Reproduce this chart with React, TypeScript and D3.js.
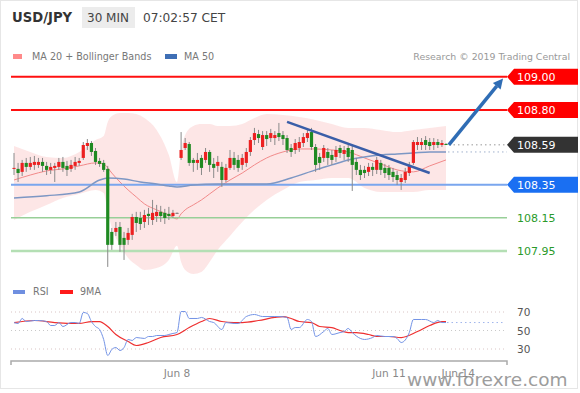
import React from "react";
import * as d3 from "d3";

// ---------- candle data (USD/JPY, 30 min) ----------
const openP = [
  108.445, 108.445, 108.427, 108.481, 108.457, 108.469, 108.469, 108.487, 108.463, 108.439,
  108.451, 108.457, 108.487, 108.463, 108.445, 108.463, 108.481, 108.511, 108.583, 108.601,
  108.553, 108.493, 108.481, 108.445, 108.065, 108.065, 108.095, 108.029, 108.017, 108.047,
  108.155, 108.149, 108.125, 108.174, 108.137, 108.161, 108.186, 108.18, 108.174, 108.161,
  108.18, 108.511, 108.571, 108.595, 108.499, 108.481, 108.511, 108.499, 108.547, 108.475,
  108.463, 108.457, 108.378, 108.451, 108.511, 108.499, 108.469, 108.481, 108.547, 108.619,
  108.655, 108.577, 108.649, 108.631, 108.631, 108.661, 108.649, 108.631, 108.571, 108.559,
  108.571, 108.601, 108.631, 108.667, 108.577, 108.517, 108.511, 108.547, 108.529, 108.517,
  108.571, 108.535, 108.571, 108.559, 108.487, 108.439, 108.439, 108.427, 108.457, 108.439,
  108.481, 108.451, 108.451, 108.427, 108.408, 108.366, 108.378, 108.42, 108.481, 108.589,
  108.589, 108.619, 108.607, 108.589, 108.607, 108.589, 108.595,
];
const highP = [
  108.541, 108.481, 108.499, 108.511, 108.517, 108.523, 108.511, 108.511, 108.487, 108.481,
  108.481, 108.511, 108.517, 108.493, 108.499, 108.517, 108.511, 108.607, 108.625, 108.613,
  108.571, 108.511, 108.499, 108.463, 108.089, 108.125, 108.125, 108.065, 108.089, 108.174,
  108.186, 108.186, 108.198, 108.21, 108.258, 108.228, 108.222, 108.204, 108.216, 108.198,
  108.182, 108.667, 108.631, 108.607, 108.511, 108.541, 108.529, 108.571, 108.559, 108.511,
  108.523, 108.487, 108.475, 108.559, 108.547, 108.529, 108.535, 108.571, 108.637, 108.692,
  108.68, 108.673, 108.673, 108.686, 108.673, 108.722, 108.673, 108.649, 108.595, 108.625,
  108.637, 108.661, 108.686, 108.692, 108.595, 108.541, 108.589, 108.571, 108.559, 108.583,
  108.589, 108.583, 108.589, 108.589, 108.511, 108.469, 108.463, 108.481, 108.481, 108.517,
  108.499, 108.475, 108.469, 108.451, 108.433, 108.414, 108.451, 108.487, 108.619, 108.637,
  108.631, 108.643, 108.631, 108.631, 108.625, 108.619, 108.601,
];
const lowP = [
  108.408, 108.366, 108.402, 108.427, 108.439, 108.439, 108.451, 108.427, 108.408, 108.414,
  108.366, 108.439, 108.427, 108.402, 108.427, 108.439, 108.463, 108.499, 108.559, 108.523,
  108.469, 108.457, 108.427, 107.854, 107.957, 108.041, 107.945, 107.896, 107.987, 108.017,
  108.065, 108.077, 108.089, 108.107, 108.107, 108.125, 108.125, 108.113, 108.137, 108.149,
  108.178, 108.499, 108.559, 108.463, 108.427, 108.439, 108.408, 108.481, 108.427, 108.39,
  108.427, 108.336, 108.366, 108.439, 108.439, 108.427, 108.439, 108.457, 108.523, 108.589,
  108.601, 108.559, 108.583, 108.607, 108.589, 108.613, 108.589, 108.541, 108.517, 108.535,
  108.547, 108.577, 108.607, 108.559, 108.427, 108.439, 108.487, 108.469, 108.469, 108.487,
  108.511, 108.499, 108.487, 108.312, 108.408, 108.378, 108.39, 108.402, 108.402, 108.414,
  108.408, 108.39, 108.378, 108.366, 108.348, 108.318, 108.36, 108.402, 108.469, 108.559,
  108.559, 108.559, 108.559, 108.559, 108.571, 108.577, 108.589,
];
const closeP = [
  108.451, 108.42, 108.481, 108.457, 108.481, 108.487, 108.487, 108.463, 108.439, 108.457,
  108.463, 108.487, 108.451, 108.439, 108.469, 108.487, 108.493, 108.589, 108.601, 108.547,
  108.487, 108.475, 108.439, 107.987, 107.987, 108.089, 107.987, 107.987, 108.059, 108.155,
  108.119, 108.113, 108.167, 108.161, 108.18, 108.186, 108.161, 108.149, 108.161, 108.18,
  108.18, 108.559, 108.601, 108.481, 108.481, 108.499, 108.451, 108.547, 108.469, 108.451,
  108.487, 108.378, 108.451, 108.511, 108.469, 108.451, 108.511, 108.547, 108.619, 108.661,
  108.631, 108.649, 108.625, 108.661, 108.649, 108.637, 108.625, 108.559, 108.547, 108.601,
  108.607, 108.637, 108.661, 108.577, 108.469, 108.481, 108.571, 108.511, 108.499, 108.559,
  108.541, 108.559, 108.517, 108.469, 108.439, 108.408, 108.42, 108.457, 108.439, 108.499,
  108.439, 108.42, 108.408, 108.396, 108.378, 108.39, 108.427, 108.469, 108.607, 108.607,
  108.607, 108.589, 108.583, 108.607, 108.589, 108.601, 108.59,
];

// ---------- MA 20 + Bollinger Bands (sampled at candle indices) ----------
const bandIdx = [0, 4, 8, 12, 16, 20, 22, 23, 24, 26, 28, 30, 32, 35, 38, 40, 41, 42, 44, 46, 48, 50, 53, 56, 59, 62, 66, 70, 74, 78, 82, 86, 90, 94, 98, 102, 106];
const bandUpper = [108.583, 108.547, 108.517, 108.511, 108.547, 108.619, 108.643, 108.728, 108.764, 108.782, 108.782, 108.776, 108.752, 108.68, 108.529, 108.366, 108.559, 108.649, 108.704, 108.716, 108.716, 108.704, 108.704, 108.716, 108.752, 108.776, 108.77, 108.758, 108.74, 108.716, 108.692, 108.692, 108.68, 108.667, 108.68, 108.692, 108.704];
const bandMid = [108.378, 108.408, 108.433, 108.445, 108.463, 108.481, 108.475, 108.451, 108.42, 108.366, 108.318, 108.276, 108.234, 108.198, 108.167, 108.143, 108.174, 108.198, 108.228, 108.258, 108.294, 108.33, 108.378, 108.42, 108.469, 108.511, 108.547, 108.565, 108.565, 108.559, 108.547, 108.511, 108.475, 108.439, 108.427, 108.463, 108.499];
const bandLower = [108.137, 108.186, 108.228, 108.27, 108.294, 108.318, 108.3, 108.186, 108.089, 107.987, 107.908, 107.866, 107.836, 107.848, 107.896, 107.981, 107.884, 107.836, 107.812, 107.824, 107.884, 107.957, 108.041, 108.125, 108.198, 108.258, 108.318, 108.366, 108.378, 108.39, 108.39, 108.33, 108.306, 108.306, 108.306, 108.318, 108.318];

// ---------- MA 50 ----------
const ma50Idx = [0, 8, 16, 21, 23, 27, 31, 35, 38, 40, 44, 50, 56, 62, 68, 74, 78, 82, 86, 90, 94, 98, 102, 106];
const ma50Val = [108.27, 108.283, 108.306, 108.378, 108.39, 108.384, 108.366, 108.354, 108.342, 108.336, 108.348, 108.354, 108.354, 108.354, 108.39, 108.439, 108.469, 108.499, 108.517, 108.529, 108.535, 108.541, 108.547, 108.547];

// ---------- RSI and its 9MA ----------
const rsiIdx = [0, 1, 2, 3, 5, 6, 8, 9, 10, 11, 12, 14, 15, 16, 17, 18, 19, 20, 21, 22, 23, 24, 25, 26, 27, 28, 29, 30, 32, 33, 34, 35, 37, 38, 39, 40, 41, 42, 43, 45, 46, 48, 49, 51, 52, 54, 55, 57, 59, 61, 64, 65, 67, 68, 69, 70, 72, 73, 74, 76, 77, 78, 80, 81, 82, 83, 85, 86, 88, 89, 91, 93, 94, 95, 97, 98, 100, 101, 103, 104, 105, 106];
const rsiVal = [58.6, 57.6, 63.0, 59.7, 60.8, 60.8, 59.7, 55.4, 55.4, 58.6, 54.3, 58.6, 58.6, 57.6, 69.5, 68.4, 59.7, 54.3, 51.1, 40.3, 23.0, 29.5, 31.6, 28.4, 31.6, 40.3, 39.2, 42.4, 41.4, 43.5, 43.5, 44.6, 44.6, 45.7, 46.8, 47.8, 70.5, 70.5, 63.0, 63.0, 64.1, 59.7, 58.6, 51.1, 58.6, 57.6, 57.6, 65.1, 67.3, 65.1, 65.1, 65.1, 64.1, 51.1, 53.2, 53.2, 61.9, 59.7, 43.5, 48.9, 52.2, 45.7, 47.8, 48.9, 52.2, 47.8, 41.4, 40.3, 42.4, 44.6, 43.5, 43.5, 41.4, 37.0, 47.8, 61.9, 61.9, 61.9, 58.6, 60.8, 58.6, 58.6];
const rsiMaIdx = [0, 5, 10, 16, 19, 21, 23, 25, 28, 30, 33, 36, 40, 43, 46, 48, 51, 54, 56, 60, 64, 66, 68, 70, 73, 75, 78, 80, 82, 84, 87, 89, 92, 95, 99, 102, 105, 106];
const rsiMaVal = [58.6, 60.8, 58.6, 57.6, 59.7, 59.7, 54.3, 45.7, 38.1, 33.8, 37.0, 42.4, 45.7, 53.2, 59.7, 63.0, 59.7, 58.6, 58.6, 60.8, 64.1, 65.1, 63.0, 59.7, 58.6, 54.3, 53.2, 50.0, 47.8, 47.8, 45.7, 43.5, 43.5, 42.4, 48.9, 55.4, 59.7, 59.7];

// ---------- levels, annotations, ticks ----------
const resistLevels = [109.0, 108.8];
const supportLevels = [108.35];
const targetLevels = [108.15, 107.95];
const lastPrice = 108.59;
const trendIdx = [67, 102];
const trendVal = [108.728, 108.42];
const arrowIdx = [106.7, 120];
const arrowVal = [108.59, 108.99];
const rsiTicks = [70, 50, 30];
const xTickIdx = [40, 92, 109];
const xTickLabels = ["Jun 8", "Jun 11", "Jun 14"];

const FONT = "DejaVu Sans, Verdana, sans-serif";

export default function App() {
  const W = 580;
  const H = 393;
  const x = d3.scaleLinear().domain([0, 106]).range([14, 446]);
  const y = d3.scaleLinear().domain([107.95, 108.8]).range([251, 110]);
  const yr = d3.scaleLinear().domain([30, 70]).range([349, 312]);
  const LX0 = 11;
  const LX1 = 507;

  const bands = bandIdx.map((i, k) => ({ i, u: bandUpper[k], m: bandMid[k], l: bandLower[k] }));
  const area = d3
    .area<any>()
    .x((d) => x(d.i))
    .y0((d) => y(d.l))
    .y1((d) => y(d.u))
    .curve(d3.curveMonotoneX);
  const midLine = d3
    .line<any>()
    .x((d) => x(d.i))
    .y((d) => y(d.m))
    .curve(d3.curveMonotoneX);
  const ma50 = ma50Idx.map((i, k) => ({ i, v: ma50Val[k] }));
  const ma50Line = d3
    .line<any>()
    .x((d) => x(d.i))
    .y((d) => y(d.v))
    .curve(d3.curveMonotoneX);
  const rsiLine = d3
    .line<any>()
    .x((d) => x(d.i))
    .y((d) => yr(d.v))
    .curve(d3.curveMonotoneX);
  const rsi = rsiIdx.map((i, k) => ({ i, v: rsiVal[k] }));
  const rsiMa = rsiMaIdx.map((i, k) => ({ i, v: rsiMaVal[k] }));

  const candles = openP.map((o, i) => ({ i, o, h: highP[i], l: lowP[i], c: closeP[i] }));

  const labelBox = (price: number, fill: string, key: string) => {
    const cy = y(price);
    const pts = [
      [507, cy],
      [514, cy - 8],
      [578, cy - 8],
      [578, cy + 8],
      [514, cy + 8],
    ];
    return (
      <g key={key}>
        <polygon points={pts.map((p) => p.join(",")).join(" ")} fill={fill} />
        <text x={517} y={cy + 4} fill="#fff" fontSize={11} fontFamily={FONT}>
          {price.toFixed(2)}
        </text>
      </g>
    );
  };

  const ax0 = x(arrowIdx[0]);
  const ay0 = y(arrowVal[0]);
  const ax1 = x(arrowIdx[1]);
  const ay1 = y(arrowVal[1]);
  const ang = Math.atan2(ay1 - ay0, ax1 - ax0);
  const hl = 10;
  const hw = 5;
  const bx = ax1 - hl * Math.cos(ang);
  const by = ay1 - hl * Math.sin(ang);
  const head = [
    [ax1, ay1],
    [bx + hw * Math.sin(ang), by - hw * Math.cos(ang)],
    [bx - hw * Math.sin(ang), by + hw * Math.cos(ang)],
  ];

  const lastMa50 = ma50[ma50.length - 1];
  const lastRsi = rsi[rsi.length - 1];

  return (
    <svg
      width={W}
      height={H}
      style={{ position: "absolute", left: 0, top: 0, background: "#fff" }}
      fontFamily={FONT}
    >
      <rect x={0.5} y={0.5} width={577} height={388} fill="#fff" stroke="#e6e6e6" />

      {/* header */}
      <text x={12} y={22} fontSize={13.2} fontWeight="bold" fill="#333">
        USD/JPY
      </text>
      <rect x={82} y={7} width={53} height={21} fill="#ececec" />
      <text x={87} y={22} fontSize={12} fill="#444">
        30 MIN
      </text>
      <text x={143} y={22} fontSize={12.2} fill="#444">
        07:02:57 CET
      </text>

      {/* legend */}
      <rect x={13} y={54} width={9} height={5} fill="#ff8a8a" />
      <text x={32} y={60} fontSize={9.6} fill="#777">
        MA 20 + Bollinger Bands
      </text>
      <rect x={165} y={54} width={12} height={5} fill="#3f6fb5" />
      <text x={184} y={60} fontSize={9.6} fill="#777">
        MA 50
      </text>
      <text x={570} y={60} fontSize={9.4} fill="#999" textAnchor="end">
        Research © 2019 Trading Central
      </text>

      {/* bollinger */}
      <path d={area(bands) || ""} fill="#fcd6d6" opacity={0.6} />
      <path d={midLine(bands) || ""} fill="none" stroke="#f28a8a" strokeWidth={1} />

      {/* horizontal levels */}
      {resistLevels.map((p) => (
        <line key={"r" + p} x1={LX0} x2={LX1} y1={y(p)} y2={y(p)} stroke="#ff1010" strokeWidth={2} />
      ))}
      {supportLevels.map((p) => (
        <line key={"s" + p} x1={LX0} x2={LX1} y1={y(p)} y2={y(p)} stroke="#7aa6ee" strokeWidth={2} />
      ))}
      <line x1={LX0} x2={LX1} y1={y(targetLevels[0])} y2={y(targetLevels[0])} stroke="#98cf98" strokeWidth={1.5} />
      <line x1={LX0} x2={LX1} y1={y(targetLevels[1])} y2={y(targetLevels[1])} stroke="#b4dfb4" strokeWidth={2.5} />

      {/* MA 50 */}
      <path d={ma50Line(ma50) || ""} fill="none" stroke="#7d97c4" strokeWidth={1.5} />
      <line
        x1={x(lastMa50.i) + 2}
        x2={LX1}
        y1={y(lastMa50.v)}
        y2={y(lastMa50.v)}
        stroke="#a0b0cc"
        strokeWidth={1}
        strokeDasharray="1.5,3"
      />

      {/* candles */}
      {candles.map((d) => {
        const cx = x(d.i);
        const top = y(Math.max(d.o, d.c));
        const bot = y(Math.min(d.o, d.c));
        const col = d.c > d.o ? "#ec2020" : d.c < d.o ? "#1f8a22" : "#777";
        return (
          <g key={d.i}>
            <line x1={cx} x2={cx} y1={y(d.h)} y2={y(d.l)} stroke="#8a8a8a" strokeWidth={1} />
            <rect x={cx - 1.6} y={top} width={3.2} height={Math.max(1, bot - top)} fill={col} />
          </g>
        );
      })}

      {/* last price dotted */}
      <line
        x1={x(106) + 3}
        x2={LX1}
        y1={y(lastPrice)}
        y2={y(lastPrice)}
        stroke="#999"
        strokeWidth={1}
        strokeDasharray="1.5,3"
      />

      {/* trend line */}
      <line
        x1={x(trendIdx[0])}
        y1={y(trendVal[0])}
        x2={x(trendIdx[1])}
        y2={y(trendVal[1])}
        stroke="#3a5ea8"
        strokeWidth={2.5}
      />

      {/* arrow */}
      <line x1={ax0} y1={ay0} x2={bx} y2={by} stroke="#2f6db5" strokeWidth={3.5} />
      <polygon points={head.map((p) => p.join(",")).join(" ")} fill="#2f6db5" />

      {/* level labels */}
      {labelBox(resistLevels[0], "#ff0000", "l1")}
      {labelBox(resistLevels[1], "#ff0000", "l2")}
      {labelBox(lastPrice, "#333333", "l3")}
      {labelBox(supportLevels[0], "#1a6ff2", "l4")}
      {targetLevels.map((p) => (
        <text key={"t" + p} x={517} y={y(p) + 4} fontSize={11} fill="#2a9a2a">
          {p.toFixed(2)}
        </text>
      ))}

      {/* RSI panel */}
      <rect x={13} y={290} width={12} height={4} fill="#6f8fe0" />
      <text x={33} y={295} fontSize={9.6} fill="#777">
        RSI
      </text>
      <rect x={60} y={290} width={13} height={4} fill="#ff1a1a" />
      <text x={80} y={295} fontSize={9.6} fill="#777">
        9MA
      </text>
      {rsiTicks.map((t) => (
        <g key={"g" + t}>
          <line
            x1={LX0}
            x2={505}
            y1={yr(t)}
            y2={yr(t)}
            stroke={t === 50 ? "#c9c9c9" : "#d9c4c4"}
            strokeWidth={1}
            strokeDasharray="1,3"
          />
          <text x={517} y={yr(t) + 4} fontSize={10.5} fill="#555">
            {t}
          </text>
        </g>
      ))}
      <path d={rsiLine(rsiMa) || ""} fill="none" stroke="#ee3030" strokeWidth={1.2} />
      <path d={rsiLine(rsi) || ""} fill="none" stroke="#7393e6" strokeWidth={1} />
      <line
        x1={x(lastRsi.i) + 1}
        x2={505}
        y1={yr(lastRsi.v)}
        y2={yr(lastRsi.v)}
        stroke="#9fb5ec"
        strokeWidth={1}
        strokeDasharray="1.5,3"
      />

      {/* x axis */}
      <path d={`M${LX0},365 V361 H${LX1} V365`} fill="none" stroke="#aaa" strokeWidth={1.5} />
      {xTickIdx.map((i, k) => (
        <text key={"x" + k} x={x(i)} y={377} fontSize={10.6} fill="#888" textAnchor="middle">
          {xTickLabels[k]}
        </text>
      ))}

      {/* watermark */}
      <text x={407} y={386} fontSize={18.5} fill="#8c8c8c" opacity={0.85}>
        www.forexre.com
      </text>
    </svg>
  );
}
